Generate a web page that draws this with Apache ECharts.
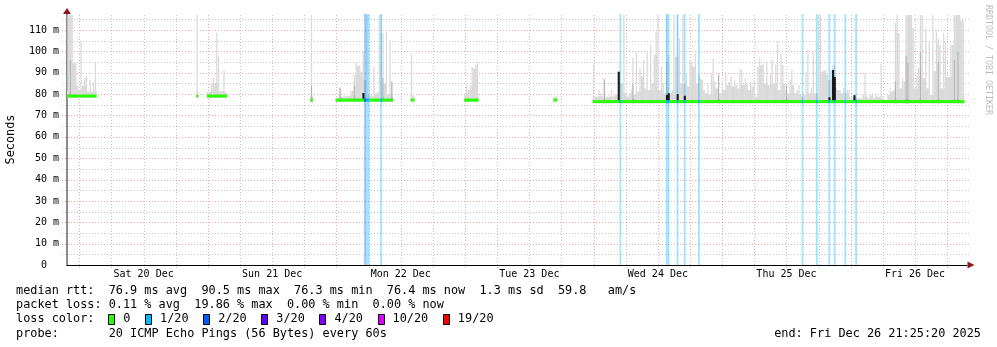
<!DOCTYPE html>
<html><head><meta charset="utf-8">
<script src="https://cdn.jsdelivr.net/npm/echarts@6/dist/echarts.min.js"></script>
<style>html,body{margin:0;padding:0;background:#fff}#c{width:997px;height:347px}</style>
</head><body><div id="c"></div>
<script>
// ---------------- DATA ----------------
// time axis: hours since Sat 20 Dec 2025 00:00; one data step = 20 minutes
const stepHours = 1 / 3;
const xMin = -2.3, xMax = 165.7;
const yMax = 117.5;
const dayLabelHours = [12, 36, 60, 84, 108, 132, 156];
const dayLabels = ['Sat 20 Dec', 'Sun 21 Dec', 'Mon 22 Dec', 'Tue 23 Dec', 'Wed 24 Dec', 'Thu 25 Dec', 'Fri 26 Dec'];

// data segments (gaps between them have no data): first step index and median rtt (ms)
const segStartStep = [-7, 66, 72, 130, 144, 186, 216, 266, 288];
const segMedian = [79.1, 79.1, 79.1, 77.2, 77.2, 77.2, 77.2, 77.2, 76.5];

// smoke top (max ping, ms) per step, one array per segment
const smokeA = [117, 117, 117, 117, 94.5, 94.5, 84, 82, 105, 84, 87.5, 88.5, 81, 86.6, 81, 85.5, 94.5];
const smokeB = [117];
const smokeC = [81, 81, 85, 87.5, 85, 108.7, 97.8, 81.5, 81.5, 91, 80.7];
const smokeD = [117];
const smokeE = [78, 78, 83.2, 78.8, 78.8, 79, 79, 79, 81.5, 81.5, 89, 94.4, 93.3, 93.3, 90.5, 99.9,
  86.6, 117, 79.6, 79.6, 79, 92.8, 80.3, 81, 117, 117, 108.5, 85, 109.2, 80, 105.3, 84.3];
const smokeF = [98.8, 79];
const smokeG = [80.3, 84, 82, 84, 92.8, 92, 93.6, 94.7];
const smokeH = [78.5, 79];
const smokeI = [
  94, 78.8, 78.8, 82, 80.4, 78.8, 87, 78.8, 78.8, 78.8,
  82, 78.8, 79.6, 79.6, 89, 85, 85, 117, 80.4, 78.8,
  80.4, 81.9, 97, 79.6, 99.5, 81.2, 92.1, 88.2, 96, 82.7,
  99.5, 81.9, 103, 85, 98.3, 109, 117, 81.9, 92.85, 85,
  80.4, 117, 98.3, 80.4, 81.9, 117, 97.5, 117, 106, 85,
  117, 85, 90, 83.5, 96, 95.2, 92.85, 99.1, 85, 88.95,
  87.4, 86.6, 81.9, 80.4, 85, 79.6, 89.5, 96.7, 85.8, 82.7,
  89.7, 80.4, 83.5, 81.9, 90.5, 84.3, 85.8, 88.2, 83.5, 86.6,
  84.3, 82.7, 92.1, 91.3, 84.3, 87.4, 85, 81.9, 85.8, 83.5,
  86.6, 78.8, 92.85, 96.7, 93.6, 94.4, 85, 95.2, 84.3, 89.7,
  96, 85, 93.6, 104.6, 81.9, 99.1, 93.6, 85, 81.9, 80.4,
  86.6, 91.3, 84.3, 80.4, 81.9, 84.3, 79.6, 78.8, 79.6, 90.5,
  100.6, 80.4, 82.7, 99.1, 80.4, 80.4, 117, 117, 90.5, 91.3,
  91.3, 88.95, 86.6, 91.3, 93.5, 93.5, 82.7, 81.9, 81.9, 80.4,
  82.7, 80.4, 81.9, 81.9, 78, 78.8, 78, 78, 78, 78,
  78, 80, 90, 78.8, 78, 79.6, 79.6, 78, 80.4, 78.8,
  78.8, 94.3, 78, 77.3, 77.3, 79.6, 82.7, 81.2, 82, 113.5,
  117, 108.6, 82.7, 87.4, 86, 117, 117, 117, 117, 111,
  82.7, 88.5, 92, 117, 117, 87.4, 110.8, 82.7, 105, 79.6,
  117, 90.7, 110, 106, 103, 82.7, 108.6, 104.5, 88, 88,
  103, 103, 117, 117, 117, 117, 114.5, 114.5];
const smokeSegments = [smokeA, smokeB, smokeC, smokeD, smokeE, smokeF, smokeG, smokeH, smokeI];

// denser (darker) smoke band tops
const darkStep = [-5, 130, 146, 154, 170, 175, 294, 310, 329, 358, 396, 457, 463, 464, 471, 481, 490, 492];
const darkTop = [96, 84, 83, 84, 87.5, 86, 87, 85, 95, 89, 84, 86, 98, 95, 100, 95, 96, 100];

// steps with packet loss, and loss level (index into lossNames)
const lossStep = [160, 161, 162, 169, 303, 329, 330, 335, 339, 347, 405, 413, 420, 423, 429, 435];
const lossLevel = [2, 1, 1, 1, 1, 1, 1, 1, 1, 1, 1, 1, 1, 1, 1, 1];

// dark median excursions: step and top (ms)
const spikeStep = [159, 302, 329, 330, 335, 339, 420, 422, 423, 434];
const spikeTop = [80.5, 90.5, 79.6, 80.4, 80, 79.2, 78.5, 91.3, 88, 79.5];

const lossNames = ['0', '1/20', '2/20', '3/20', '4/20', '10/20', '19/20'];
const lossColors = ['#26ff00', '#00b8ff', '#0059ff', '#5e00ff', '#7e00ff', '#dd00ff', '#ff0000'];

const statsLine = 'median rtt:  76.9 ms avg  90.5 ms max  76.3 ms min  76.4 ms now  1.3 ms sd  59.8   am/s';
const lossLine = 'packet loss: 0.11 % avg  19.86 % max  0.00 % min  0.00 % now';
const probeLine = 'probe:       20 ICMP Echo Pings (56 Bytes) every 60s';
const endLine = 'end: Fri Dec 26 21:25:20 2025';

// ---------------- BUILD ----------------
const MONO = '"DejaVu Sans Mono", monospace';

function medianAt(k) {
  for (let s = 0; s < segStartStep.length; s++) {
    if (k >= segStartStep[s] && k < segStartStep[s] + smokeSegments[s].length) return segMedian[s];
  }
  return segMedian[segMedian.length - 1];
}

// item: [t, low, top, shoulder] ; shoulder = level up to which the smoke fills the full step width
const smokeData = [], medianData = [];
smokeSegments.forEach((arr, s) => {
  arr.forEach((top, i) => {
    const k = segStartStep[s] + i;
    const t = k * stepHours;
    const lo = segMedian[s] - 0.8;
    const prev = i > 0 ? arr[i - 1] : lo, next = i < arr.length - 1 ? arr[i + 1] : lo;
    const shoulder = Math.min(top, Math.max(lo + 3.2, Math.min(prev, next)));
    smokeData.push([t, lo, top, shoulder]);
    const li = lossStep.indexOf(k);
    medianData.push([t, segMedian[s], li >= 0 ? lossLevel[li] : 0]);
  });
});
const darkData = darkStep.map((k, i) => {
  const lo = medianAt(k) - 0.8;
  return [k * stepHours, lo, darkTop[i], Math.min(darkTop[i], lo + 2)];
});
const spikeData = spikeStep.map((k, i) => [k * stepHours, medianAt(k), spikeTop[i]]);
const lossData = lossStep.map((k, i) => [k * stepHours, lossLevel[i]]);

// grid lines (axis structure): vertical every 6 h, horizontal every 5 ms
const gridData = [];
for (let h = Math.ceil(xMin / 6) * 6; h <= xMax; h += 6) gridData.push([0, h, h % 24 === 0 ? 1 : 0]);
for (let v = 5; v < yMax; v += 5) gridData.push([1, v, v % 10 === 0 ? 1 : 0]);

// smoke: full-width band up to the shoulder, thin column above it
function smokeSeries(name, data, fill, colW) {
  return {
    type: 'custom', name, data, silent: true,
    renderItem(params, api) {
      const t = api.value(0), lo = api.value(1), hi = api.value(2), sh = api.value(3);
      const a = api.coord([t - stepHours / 2, sh]);
      const b = api.coord([t + stepHours / 2, lo]);
      const children = [];
      const r = echarts.graphic.clipRectByRect({x: a[0], y: a[1], width: b[0] - a[0] + 0.3, height: b[1] - a[1]}, params.coordSys);
      if (r) children.push({type: 'rect', shape: r, style: {fill}});
      if (hi > sh) {
        const c = api.coord([t, hi]);
        const r2 = echarts.graphic.clipRectByRect({x: c[0] - colW / 2, y: c[1], width: colW, height: a[1] - c[1] + 0.5}, params.coordSys);
        if (r2) children.push({type: 'rect', shape: r2, style: {fill}});
      }
      return {type: 'group', children};
    }
  };
}
function rectSeries(name, data, fill) {
  return {
    type: 'custom', name, data, silent: true,
    renderItem(params, api) {
      const t = api.value(0), lo = api.value(1), hi = api.value(2);
      const a = api.coord([t - stepHours / 2, hi]);
      const b = api.coord([t + stepHours / 2, lo]);
      const r = echarts.graphic.clipRectByRect({x: a[0], y: a[1], width: b[0] - a[0] + 0.3, height: b[1] - a[1]}, params.coordSys);
      if (!r) return null;
      return {type: 'rect', shape: r, style: {fill}};
    }
  };
}

const chart = echarts.init(document.getElementById('c'), null, {renderer: 'canvas', width: 997, height: 347});

const graphics = [];
function txt(s, x, y, opts) {
  graphics.push({type: 'text', x, y, silent: true,
    style: Object.assign({text: s, fontFamily: MONO, fontSize: 11.85, fill: '#000', align: 'left', verticalAlign: 'middle'}, opts || {})});
}
const rowY = [291.3, 305.3, 319.3, 333.6];
const cw = 7.135;
txt(statsLine, 16, rowY[0]);
txt(lossLine, 16, rowY[1]);
txt('loss color:', 16, rowY[2]);
txt(probeLine, 16, rowY[3]);
txt(endLine, 981, rowY[3], {align: 'right'});
let sx = 108.3;
lossNames.forEach((nm, i) => {
  graphics.push({type: 'rect', silent: true, shape: {x: Math.round(sx) + 0.5, y: 314.5, width: 6, height: 10},
    style: {fill: lossColors[i], stroke: '#000', lineWidth: 1}});
  const tx = sx + 15;
  txt(nm, tx, rowY[2]);
  sx = tx + nm.length * cw + 14.6;
});
txt('Seconds', 11, 139.5, {align: 'center'});
graphics[graphics.length - 1].rotation = Math.PI / 2;
graphics.push({type: 'text', x: 988, y: 60, rotation: -Math.PI / 2, silent: true,
  style: {text: 'RRDTOOL / TOBI OETIKER', fontFamily: MONO, fontSize: 8.3, fill: '#bdbdbd', align: 'center', verticalAlign: 'middle'}});

const option = {
  animation: false,
  backgroundColor: '#fff',
  grid: {left: 67, right: 30, top: 14, bottom: 82},
  xAxis: [{
    type: 'value', min: xMin, max: xMax, position: 'bottom',
    axisLine: {show: true, onZero: false, lineStyle: {color: '#000', width: 1}},
    axisTick: {show: false}, splitLine: {show: false},
    axisLabel: {customValues: dayLabelHours, formatter: v => dayLabels[dayLabelHours.indexOf(Math.round(v))] || '',
      fontFamily: MONO, fontSize: 10, color: '#000', margin: 4}
  }, {
    type: 'value', min: xMin, max: xMax, position: 'bottom',
    axisLine: {show: true, onZero: false, symbol: ['none', 'triangle'], symbolSize: [7, 7], symbolOffset: [0, 4],
      lineStyle: {color: '#8b1a1a', width: 0}},
    axisTick: {show: false}, axisLabel: {show: false}, splitLine: {show: false}
  }],
  yAxis: [{
    type: 'value', min: 0, max: yMax, interval: 10,
    axisLine: {show: true, onZero: false, lineStyle: {color: '#666', width: 1.5}},
    axisTick: {show: false}, splitLine: {show: false},
    axisLabel: {formatter: v => v === 0 ? '0  ' : v + ' m', showMaxLabel: false,
      fontFamily: MONO, fontSize: 10, color: '#000', margin: 8}
  }, {
    type: 'value', min: 0, max: yMax, position: 'left',
    axisLine: {show: true, onZero: false, symbol: ['none', 'triangle'], symbolSize: [8, 6], symbolOffset: [0, 3],
      lineStyle: {color: '#8b1a1a', width: 0}},
    axisTick: {show: false}, axisLabel: {show: false}, splitLine: {show: false}
  }],
  series: [
    {
      type: 'custom', name: 'grid', data: gridData, silent: true,
      renderItem(params, api) {
        const kind = api.value(0), v = api.value(1), major = api.value(2);
        let x1, y1, x2, y2;
        if (kind === 0) {
          const p = api.coord([v, 0]), q = api.coord([v, yMax]);
          x1 = x2 = Math.round(p[0]) + 0.5; y1 = p[1] + 3; y2 = q[1] - 1;
        } else {
          const p = api.coord([xMin, v]), q = api.coord([xMax, v]);
          y1 = y2 = Math.round(p[1]) + 0.5; x1 = p[0] - 5; x2 = q[0] + 2;
        }
        return {type: 'line', shape: {x1, y1, x2, y2},
          style: {stroke: major ? 'rgba(235,60,60,0.45)' : 'rgba(90,90,90,0.35)', lineWidth: 1, lineDash: [1, 2]}};
      }
    },
    smokeSeries('smoke', smokeData, '#dadada', 1.3),
    smokeSeries('smokeDense', darkData, '#b0b0b0', 1.0),
    {
      type: 'custom', name: 'loss', data: lossData, silent: true,
      renderItem(params, api) {
        const t = api.value(0), lv = api.value(1);
        const a = api.coord([t - stepHours / 2, yMax]);
        const b = api.coord([t + stepHours / 2, 0]);
        return {type: 'rect', shape: {x: a[0], y: a[1], width: b[0] - a[0], height: b[1] - a[1]},
          style: {fill: lossColors[lv], opacity: 0.38}};
      }
    },
    rectSeries('spike', spikeData, '#1a1a1a'),
    {
      type: 'custom', name: 'median', data: medianData, silent: true,
      renderItem(params, api) {
        const t = api.value(0), m = api.value(1), lv = api.value(2);
        const a = api.coord([t - stepHours / 2, m]);
        const b = api.coord([t + stepHours / 2, m]);
        const r = echarts.graphic.clipRectByRect({x: a[0], y: a[1] - 1.5, width: b[0] - a[0] + 0.3, height: 3}, params.coordSys);
        if (!r) return null;
        return {type: 'rect', shape: r, style: {fill: lossColors[lv]}};
      }
    }
  ],
  graphic: graphics
};
chart.setOption(option);
</script>
</body></html>
